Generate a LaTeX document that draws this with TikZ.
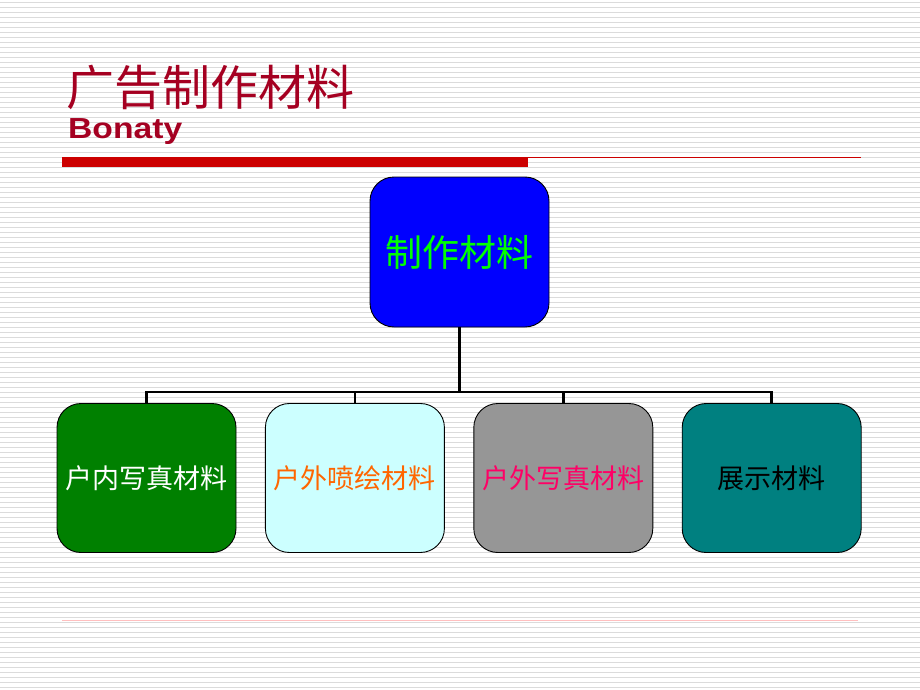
\documentclass[tikz,border=0pt]{standalone}
\usepackage{fontspec}
\setmainfont{Liberation Sans}
\newfontfamily\cjk{Noto Sans CJK SC}
\usetikzlibrary{positioning}
\definecolor{titlered}{HTML}{A50021}
\definecolor{barred}{HTML}{CC0000}
\definecolor{rootblue}{HTML}{0000FF}
\definecolor{rootgreen}{HTML}{00FF00}
\definecolor{indoorgreen}{HTML}{008000}
\definecolor{spraycyan}{HTML}{CCFFFF}
\definecolor{sprayorange}{HTML}{FF6600}
\definecolor{outdoorgray}{HTML}{969696}
\definecolor{outdoorpink}{HTML}{FF0066}
\definecolor{showteal}{HTML}{008080}

\begin{document}
\begin{tikzpicture}[x=1pt,y=-1pt,
	matbox/.style={draw=black, line width=0.9pt, rounded corners=24pt, minimum width=179pt, minimum height=149pt, inner sep=0pt, font=\cjk\fontsize{27}{30}\selectfont},
	bus/.style={line width=2.6pt, black}]
			
			\useasboundingbox (0,0) rectangle (920,690);
			\fill[white] (0,0) rectangle (920,690);
			\foreach \y in {2,7,...,687}
				\draw[gray!28, line width=0.8pt] (0,\y) -- (920,\y);
			
			% title
			\node[anchor=base west, inner sep=0pt, text=titlered, font=\cjk\fontsize{48}{50}\selectfont] (title) at (66,106) {广告制作材料};
			\node[anchor=base west, inner sep=0pt, text=titlered, font=\bfseries\fontsize{29}{31}\selectfont] (brand) at (68,139) {\scalebox{1.16}[1]{Bonaty}};
			\fill[barred] (62,157) rectangle (528,167);
			\draw[barred, line width=0.9pt] (528,157.5) -- (861,157.5);
			\draw[red!25, line width=0.8pt] (62,620) -- (858,620);
			
			% boxes
			\node[matbox, fill=rootblue, text=rootgreen, minimum height=150pt, font=\cjk\fontsize{37}{40}\selectfont] (root) at (459.5,252) {制作材料};
			\node[matbox, fill=indoorgreen, text=white] (indoor) at (146.5,478) {\raisebox{-2pt}{户内写真材料}};
			\node[matbox, fill=spraycyan, text=sprayorange, right=28.5pt of indoor] (spray) {\raisebox{-2pt}{户外喷绘材料}};
			\node[matbox, fill=outdoorgray, text=outdoorpink, right=28.5pt of spray] (outdoor) {\raisebox{-2pt}{户外写真材料}};
			\node[matbox, fill=showteal, text=black, right=28.5pt of outdoor] (show) {\raisebox{-2pt}{展示材料}};
			
			\coordinate (hub) at (459.5,392);
			\draw[bus] (root.south) -- (hub);
			\draw[bus] (indoor.north) |- (hub) -| (show.north);
			\draw[bus] (spray.north) -- (spray.north |- hub);
			\draw[bus] (outdoor.north) -- (outdoor.north |- hub);
			
		\end{tikzpicture}
\end{document}
